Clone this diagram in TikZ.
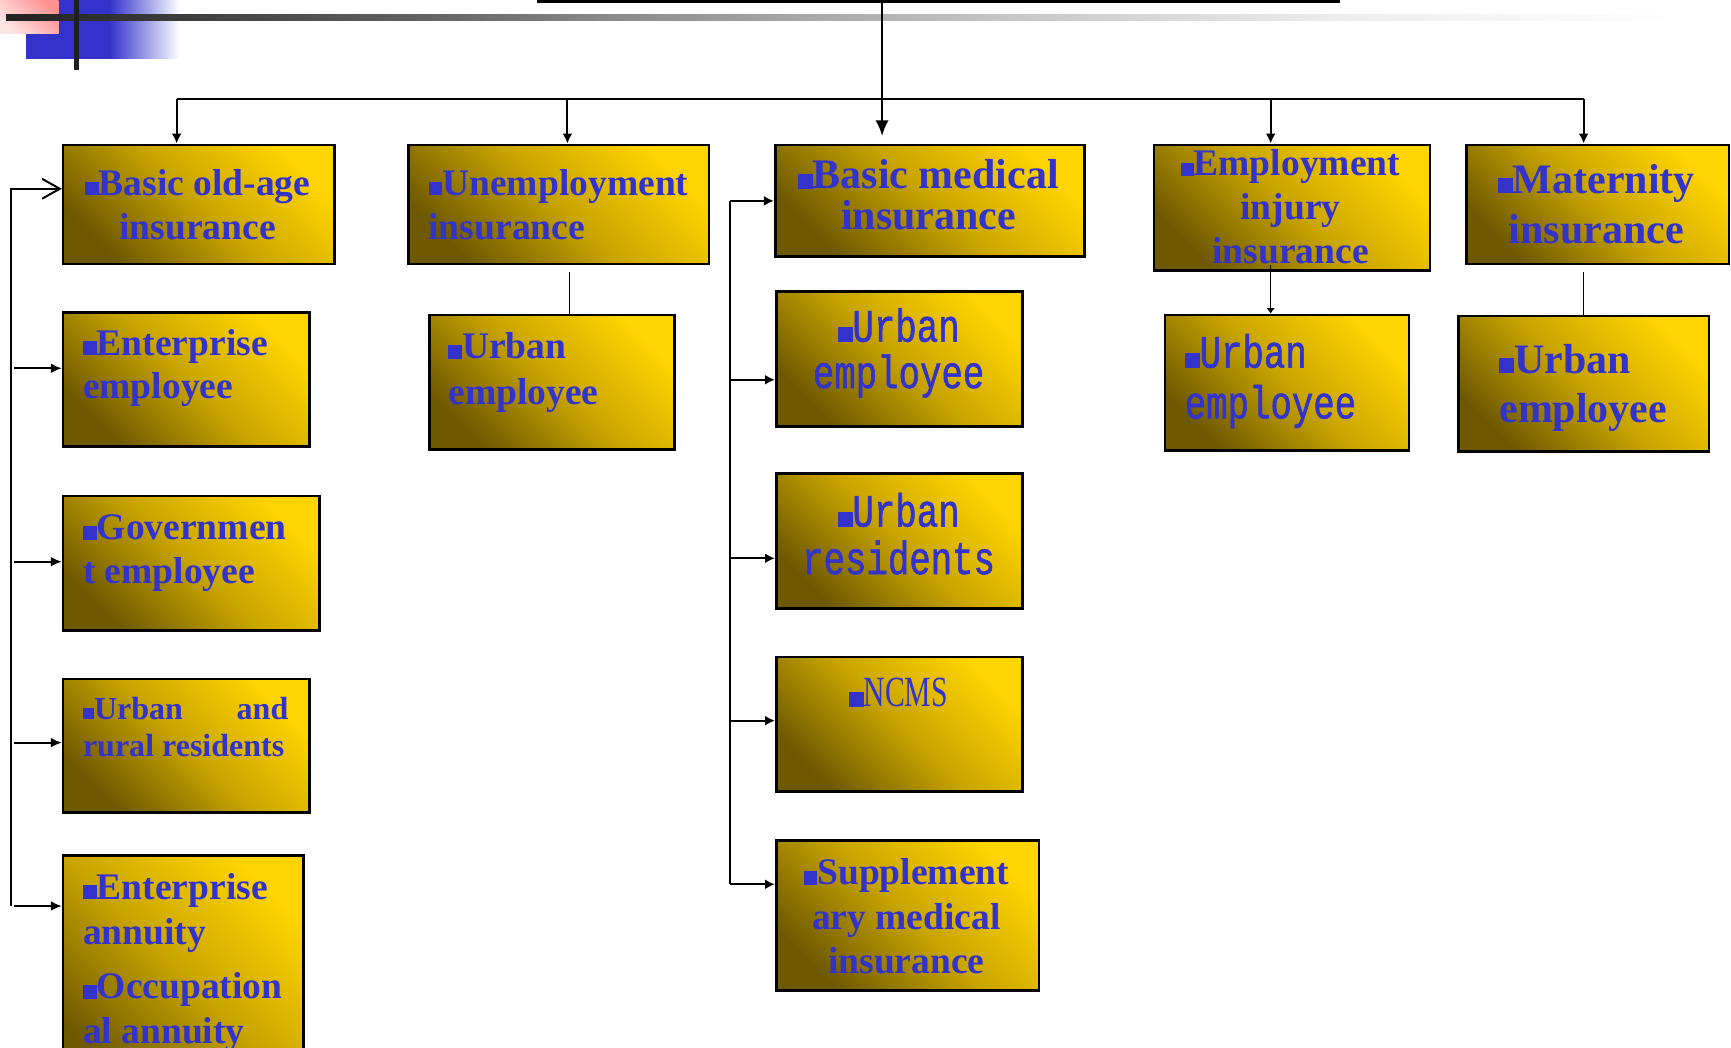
\documentclass[tikz,border=0pt]{standalone}
\usepackage{fontspec}
\setmainfont{Liberation Serif}
\newfontfamily\monof[FakeStretch=0.77,FakeBold=1.2]{Liberation Mono}
\newfontfamily\condf[FakeStretch=0.69]{Liberation Serif}
\usetikzlibrary{arrows.meta,calc}

\definecolor{tblue}{RGB}{51,51,204}
\definecolor{hblue}{RGB}{51,51,204}
\definecolor{goldA}{RGB}{255,212,0}
\definecolor{goldM}{RGB}{200,164,0}
\definecolor{goldB}{RGB}{110,88,0}
\definecolor{pinkA}{RGB}{255,145,145}
\definecolor{pinkB}{RGB}{255,228,228}

\pgfdeclarehorizontalshading{blueshade}{100bp}{color(0bp)=(hblue); color(25bp)=(hblue); color(52bp)=(hblue); color(75bp)=(white); color(100bp)=(white)}
\pgfdeclarehorizontalshading{barshade}{100bp}{color(0bp)=(black!87); color(25bp)=(black!87); color(38bp)=(black!60); color(43bp)=(black!46); color(46bp)=(black!40); color(55bp)=(black!22); color(65bp)=(black!7); color(75bp)=(white); color(100bp)=(white)}

\newcommand\sq[1]{\rule{#1pt}{#1pt}}
\newcommand\fs[2]{\fontsize{#1pt}{#2pt}\selectfont}

\tikzset{
  ibox/.style={draw=black, line width=2.4pt, top color=goldA, bottom color=goldB, middle color=goldM, shading angle=-45, inner sep=0pt},
  lbl/.style={inner sep=0pt, text=tblue},
  conn/.style={draw=black, line width=1.8pt},
  darr/.style={conn, -{Latex[length=9pt,width=9pt]}},
  bigarr/.style={conn, -{Latex[length=14pt,width=12pt]}},
  sarr/.style={conn, -{Latex[length=10pt,width=9pt]}},
  marr/.style={conn, -{Latex[length=9pt,width=9pt]}},
  smallarr/.style={draw=black, line width=1.5pt, -{Latex[length=5pt,width=8pt]}},
  openarr/.style={conn, -{Straight Barb[length=16pt,width=18pt]}},
  thinline/.style={draw=black, line width=1.1pt}
}

\newcommand\ibox[5]{\node[ibox, anchor=north west, minimum width={#4-#2}, minimum height={#5-#3}] (#1) at (#2,#3) {};}
\newcommand\ctext[6]{\node[lbl, anchor=base] (#1) at (#2,#3) {\begin{minipage}[t]{#4pt}\centering#5#6\end{minipage}};}
\newcommand\ltext[6]{\node[lbl, anchor=base west] (#1) at (#2,#3) {\begin{minipage}[t]{#4pt}\raggedright#5#6\end{minipage}};}

\begin{document}
\begin{tikzpicture}[x=1pt,y=-1pt]
\useasboundingbox (0,0) rectangle (1568,949);
\fill[white] (0,0) rectangle (1568,949);

% header decoration
\shade[shading=blueshade] (23.6,0) rectangle (163,53);
\shade[top color=pinkA, bottom color=pinkB, shading angle=-45] (0,0) rectangle (53,30);
\shade[shading=barshade] (5.5,12.7) rectangle (1520,18.7);
\fill[black!88] (66.6,0) rectangle (72,63);

% top (cut-off) box
\node[ibox, anchor=south west, minimum width=725pt, minimum height=60pt] (top) at (486,2.4) {};

% first level
\ibox{b1}{56}{130}{302}{238}
\ibox{b2}{369}{130}{641}{238}
\ibox{b3}{701}{130}{981}{231}
\ibox{b4}{1044}{130}{1294}{244}
\ibox{b5}{1327}{130}{1565}{238}

% left column
\ibox{c1}{56}{282}{279}{403}
\ibox{c2}{56}{448}{288}{570}
\ibox{c3}{56}{614}{279}{735}
\ibox{c4}{56}{774}{274}{990}

% unemployment child
\ibox{u1}{388}{284}{610}{406}

% medical column
\ibox{m1}{702}{263}{925}{385}
\ibox{m2}{702}{428}{925}{550}
\ibox{m3}{702}{594}{925}{716}
\ibox{m4}{702}{760}{940}{896}

% injury and maternity children
\ibox{i1}{1054}{284}{1275}{407}
\ibox{t1}{1320}{285}{1547}{408}

% texts
\ctext{b1t}{179}{177}{240}{\bfseries\fs{34}{40}}{\sq{12.5}Basic old-age\\insurance}
\ltext{b2t}{388}{177}{260}{\bfseries\fs{34}{40}}{\sq{12.5}Unemployment\\insurance}
\ctext{b3t}{841}{171}{276}{\bfseries\fs{38}{37}}{\sq{13.5}Basic medical\\insurance}
\ctext{b4t}{1169}{159}{246}{\bfseries\fs{34}{40}}{\sq{11.5}Employment\\injury\\insurance}
\ctext{b5t}{1446}{175}{236}{\bfseries\fs{38}{46}}{\sq{13.5}Maternity\\insurance}

\ltext{c1t}{75}{321.6}{220}{\bfseries\fs{34}{39}}{\sq{12.5}Enterprise\\employee}
\ltext{c2t}{75}{489}{220}{\bfseries\fs{34}{40}}{\sq{12.5}Governmen\\t employee}
\ltext{c3t}{75}{651.5}{186}{\bfseries\fs{29}{34}}{\sq{10}Urban\hfill and\\rural residents}
\ltext{c4t}{75}{814.6}{220}{\bfseries\fs{34}{41}}{\sq{12.5}Enterprise\\annuity\\[8pt]\sq{12.5}Occupation\\al annuity}

\ltext{u1t}{406}{325}{220}{\bfseries\fs{34}{41}}{\sq{12.5}Urban\\employee}

\ctext{m1t}{814}{309.5}{220}{\monof\mdseries\fs{42}{42}}{\sq{13.5}Urban\\employee}
\ctext{m2t}{814}{477}{220}{\monof\mdseries\fs{42}{43}}{\sq{13.5}Urban\\residents}
\ctext{m3t}{814}{640}{220}{\condf\mdseries\fs{39}{40}}{\sq{13}NCMS}
\ctext{m4t}{821}{801.6}{236}{\bfseries\fs{34}{40}}{\sq{12.5}Supplement\\ary medical\\insurance}

\ltext{i1t}{1073}{333}{220}{\monof\mdseries\fs{42}{46}}{\sq{13.5}Urban\\employee}
\ltext{t1t}{1358}{338}{220}{\bfseries\fs{38}{45}}{\sq{13.5}Urban\\employee}

% top bus
\coordinate (hl) at (160,90);
\coordinate (hr) at (1434.5,90);
\coordinate (j2) at (514,90);
\coordinate (j4) at (1151,90);
\draw[conn] (hl) -- (hr);
\draw[darr] (hl) -- (hl |- b1.north);
\draw[darr] (j2) -- (j2 |- b2.north);
\draw[darr] (j4) -- (j4 |- b4.north);
\draw[darr] (hr) -- (hr |- b5.north);

% central connector
\coordinate (jc) at (799,0);
\draw[bigarr, shorten >=7pt] (top.south -| jc) -- (jc |- b3.north);

% children of unemployment, injury, maternity
\coordinate (ju) at (516,0);
\draw[thinline, shorten <=6pt] (b2.south -| ju) -- (u1.north -| ju);
\coordinate (jt) at (1434.5,0);
\draw[thinline, shorten <=6pt] (b5.south -| jt) -- (t1.north -| jt);
\coordinate (ji) at (1151,0);
\draw[smallarr, shorten <=-6pt] (b4.south -| ji) -- (i1.north -| ji);

% left bus
\coordinate (lt) at (10,171);
\coordinate (lb) at (10,821);
\draw[openarr] (lb) -- (lt) -- (lt -| b1.west);
\coordinate (L1) at (13,333.6);
\coordinate (L2) at (13,508.8);
\coordinate (L3) at (13,672.7);
\coordinate (L4) at (13,820.7);
\draw[sarr] (L1) -- (L1 -| c1.west);
\draw[sarr] (L2) -- (L2 -| c2.west);
\draw[sarr] (L3) -- (L3 -| c3.west);
\draw[sarr] (L4) -- (L4 -| c4.west);

% medical bus
\coordinate (mt) at (661,182);
\coordinate (mb) at (661,801);
\draw[conn] (mb) -- (mt);
\draw[marr] (mt) -- (mt -| b3.west);
\coordinate (M1) at (661,344);
\coordinate (M2) at (661,505.7);
\coordinate (M3) at (661,652.8);
\coordinate (M4) at (661,801);
\draw[marr] (M1) -- (M1 -| m1.west);
\draw[marr] (M2) -- (M2 -| m2.west);
\draw[marr] (M3) -- (M3 -| m3.west);
\draw[marr] (M4) -- (M4 -| m4.west);
\end{tikzpicture}
\end{document}
